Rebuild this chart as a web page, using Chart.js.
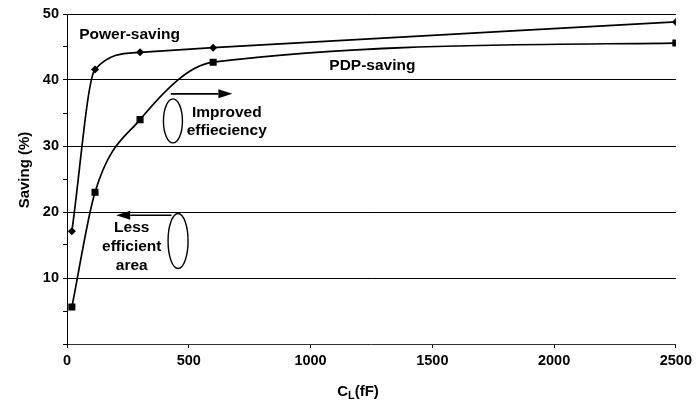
<!DOCTYPE html>
<html>
<head>
<meta charset="utf-8">
<script src="https://cdn.jsdelivr.net/npm/chart.js@4.4.0/dist/chart.umd.min.js"></script>
<style>
  html, body { margin: 0; padding: 0; background: #fff; }
  #wrap { width: 696px; height: 407px; }
</style>
</head>
<body>
<div id="wrap"><canvas id="savingChart" width="696" height="407"></canvas></div>
<script>
// load capacitance (fF) and the two saving curves (%)
const capacitance = [20, 115, 300, 600, 2500];
const powerSaving = [17.1, 41.6, 44.2, 44.9, 48.8];
const pdpSaving = [5.6, 23.0, 34.0, 42.7, 45.6];

const xTicks = [0, 500, 1000, 1500, 2000, 2500];
const yLabelled = [10, 20, 30, 40, 50];

const FONT = '"Liberation Sans", Arial, Helvetica, sans-serif';

// curve labels and notes, placed in data units
const curveLabels = [
    { text: 'Power-saving', x: 50, y: 46.8, align: 'left' },
    { text: 'PDP-saving', x: 1077, y: 42.2, align: 'left' }
];
const notes = [
    { lines: ['Improved', 'effieciency'], x: 656, y: 35.1, step: 18 },
    { lines: ['Less', 'efficient', 'area'], x: 266, y: 17.6, step: 19 }
];
const ellipses = [
    { x: 435, y: 33.8, rx: 9.5, ry: 22 },
    { x: 456, y: 15.6, rx: 10, ry: 27.5 }
];
const arrows = [
    { x0: 426, x1: 679, y: 37.9 },
    { x0: 429, x1: 202, y: 19.5 }
];

const annotate = {
    id: 'annotate',
    afterDraw(chart) {
        const { ctx, scales: { x, y }, chartArea } = chart;
        ctx.save();
        ctx.fillStyle = '#000';
        ctx.strokeStyle = '#000';
        ctx.textBaseline = 'middle';
        ctx.font = 'bold 15.5px ' + FONT;

        curveLabels.forEach(l => {
            ctx.textAlign = l.align;
            ctx.fillText(l.text, x.getPixelForValue(l.x), y.getPixelForValue(l.y));
        });

        ctx.textAlign = 'center';
        notes.forEach(n => {
            const px = x.getPixelForValue(n.x);
            const py = y.getPixelForValue(n.y);
            n.lines.forEach((t, i) => ctx.fillText(t, px, py + i * n.step));
        });

        ctx.lineWidth = 1.4;
        ellipses.forEach(e => {
            ctx.beginPath();
            ctx.ellipse(x.getPixelForValue(e.x), y.getPixelForValue(e.y), e.rx, e.ry, 0, 0, Math.PI * 2);
            ctx.stroke();
        });

        ctx.lineWidth = 1.6;
        arrows.forEach(a => {
            const px0 = x.getPixelForValue(a.x0);
            const px1 = x.getPixelForValue(a.x1);
            const py = y.getPixelForValue(a.y);
            const dir = px1 > px0 ? 1 : -1;
            const head = 14;
            ctx.beginPath();
            ctx.moveTo(px0, py);
            ctx.lineTo(px1 - dir * head, py);
            ctx.stroke();
            ctx.beginPath();
            ctx.moveTo(px1, py);
            ctx.lineTo(px1 - dir * head, py - 4.5);
            ctx.lineTo(px1 - dir * head, py + 4.5);
            ctx.closePath();
            ctx.fill();
        });

        // axis titles
        ctx.font = 'bold 15px ' + FONT;
        ctx.save();
        ctx.translate(25, (chartArea.top + chartArea.bottom) / 2 - 9);
        ctx.rotate(-Math.PI / 2);
        ctx.textAlign = 'center';
        ctx.fillText('Saving (%)', 0, 0);
        ctx.restore();

        const cW = ctx.measureText('C').width;
        ctx.font = 'bold 11px ' + FONT;
        const lW = ctx.measureText('L').width;
        ctx.font = 'bold 15px ' + FONT;
        const rest = '(fF)';
        const rW = ctx.measureText(rest).width;
        let tx = 358 - (cW + lW + rW) / 2;
        const ty = 392;
        ctx.textAlign = 'left';
        ctx.fillText('C', tx, ty);
        tx += cW;
        ctx.font = 'bold 11px ' + FONT;
        ctx.fillText('L', tx, ty + 4);
        tx += lW;
        ctx.font = 'bold 15px ' + FONT;
        ctx.fillText(rest, tx, ty);
        ctx.restore();
    }
};

const makePoints = ys => capacitance.map((c, i) => ({ x: c, y: ys[i] }));

new Chart(document.getElementById('savingChart'), {
    type: 'line',
    data: {
        datasets: [
            {
                label: 'Power-saving',
                data: makePoints(powerSaving),
                borderColor: '#000',
                backgroundColor: '#000',
                borderWidth: 1.7,
                cubicInterpolationMode: 'monotone',
                pointStyle: 'rectRot',
                pointRadius: 4,
                pointBorderWidth: 0
            },
            {
                label: 'PDP-saving',
                data: makePoints(pdpSaving),
                borderColor: '#000',
                backgroundColor: '#000',
                borderWidth: 1.7,
                cubicInterpolationMode: 'monotone',
                pointStyle: 'rect',
                pointRadius: 5,
                pointBorderWidth: 0
            }
        ]
    },
    options: {
        responsive: false,
        animation: false,
        layout: { padding: { left: 0, right: 17, top: 14, bottom: 0 } },
        plugins: {
            legend: { display: false },
            tooltip: { enabled: false }
        },
        scales: {
            x: {
                type: 'linear',
                min: 0,
                max: 2500,
                afterBuildTicks: axis => { axis.ticks = xTicks.map(v => ({ value: v })); },
                afterFit: axis => { axis.height = 63; },
                ticks: {
                    color: '#000',
                    padding: 4,
                    maxRotation: 0,
                    font: { family: FONT, size: 14.5, weight: 'bold' },
                    callback: v => String(v)
                },
                grid: {
                    drawOnChartArea: false,
                    tickLength: 4,
                    tickColor: '#000'
                },
                border: { color: '#333', width: 1 }
            },
            y: {
                min: 0,
                max: 50,
                ticks: {
                    stepSize: 5,
                    color: '#000',
                    padding: 4,
                    font: { family: FONT, size: 14.5, weight: 'bold' },
                    callback: v => yLabelled.includes(v) ? String(v) : ''
                },
                afterFit: axis => { axis.width = 67; },
                grid: {
                    color: c => yLabelled.includes(c.tick.value) ? '#000' : 'rgba(0,0,0,0)',
                    tickColor: '#000',
                    tickLength: 4,
                    lineWidth: 1
                },
                border: { color: '#000', width: 1 }
            }
        }
    },
    plugins: [annotate]
});
</script>
</body>
</html>
